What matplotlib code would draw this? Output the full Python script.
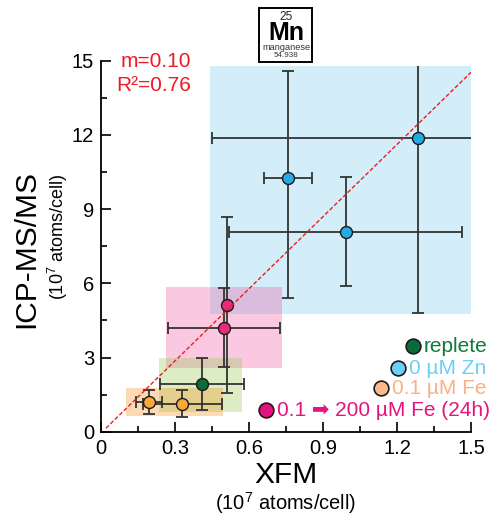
import matplotlib
matplotlib.use("Agg")
import matplotlib.pyplot as plt
from matplotlib.patches import Rectangle

plt.rcParams['font.family'] = ['Liberation Sans', 'DejaVu Sans']
plt.rcParams['mathtext.fontset'] = 'custom'
plt.rcParams['mathtext.rm'] = 'Liberation Sans'

# ---- data ----
rep_x = [0.41]; rep_y = [1.92]; rep_xerr = [0.17]; rep_yerr = [1.05]
zn_x = [0.757, 1.286, 0.992]; zn_y = [10.25, 11.89, 8.06]
zn_xerr = [0.097, 0.836, 0.473]
zn_yerr_lo = [4.83, 7.08, 2.16]; zn_yerr_hi = [4.35, 7.08, 2.24]
fe_x = [0.195, 0.33]; fe_y = [1.19, 1.13]; fe_xerr = [0.054, 0.16]; fe_yerr = [0.48, 0.55]
sh_x = [0.51, 0.499]; sh_y = [5.13, 4.21]; sh_xerr = [0.0, 0.228]; sh_yerr = [3.55, 1.58]

# ranges (x0, x1, y0, y1)
zn_box = [0.442, 1.5, 4.76, 14.79]
sh_box = [0.263, 0.732, 2.56, 5.84]
rep_box = [0.236, 0.573, 0.78, 2.97]
fe_box = [0.101, 0.495, 0.65, 1.78]

fit_x = [0.02, 1.5]; fit_y = [0.14, 14.53]

xticks = [0, 0.3, 0.6, 0.9, 1.2, 1.5]
xticklabels = ['0', '0.3', '0.6', '0.9', '1.2', '1.5']
yticks = [0, 3, 6, 9, 12, 15]

W, H = 490, 518
fig = plt.figure(figsize=(W/100, H/100), dpi=100)
ax = fig.add_axes([101/W, 1-431.7/H, 370/W, 371/H])
ax.set_xlim(0, 1.5)
ax.set_ylim(0, 15)

def box(b, color, alpha, z):
    r = Rectangle((b[0], b[2]), b[1]-b[0], b[3]-b[2], facecolor=color,
                  alpha=alpha, edgecolor='none', zorder=z)
    ax.add_patch(r)
    return r

zr = box(zn_box, '#29abe2', 0.2, 1)
box(sh_box, '#ec2a8a', 0.25, 1.1)
box(rep_box, '#8dc63f', 0.3, 1.2)
box(fe_box, '#f7941d', 0.33, 1.3)

ax.plot(fit_x, fit_y, color='#ed1c24', lw=1.0, linestyle=(0, (3, 1.5)), zorder=6)

ekw = dict(fmt='none', ecolor='#333333', elinewidth=1.3, capsize=4, capthick=1.3, zorder=3)
eb = ax.errorbar(zn_x, zn_y, xerr=zn_xerr, yerr=[zn_yerr_lo, zn_yerr_hi], **ekw)
for art in eb.get_children():
    art.set_clip_path(zr)
ax.errorbar(sh_x, sh_y, xerr=sh_xerr, yerr=sh_yerr, **ekw)
ax.errorbar(rep_x, rep_y, xerr=rep_xerr, yerr=rep_yerr, **ekw)
ax.errorbar(fe_x, fe_y, xerr=fe_xerr, yerr=fe_yerr, **ekw)

mkw = dict(linestyle='none', marker='o', markersize=8.6, markeredgecolor='#1a1a1a',
           markeredgewidth=1.0, zorder=5)
ax.plot(zn_x, zn_y, markerfacecolor='#27aae1', **mkw)
ax.plot(sh_x, sh_y, markerfacecolor='#ec2a7b', **mkw)
ax.plot(rep_x, rep_y, markerfacecolor='#0c6b3a', **mkw)
ax.plot(fe_x, fe_y, markerfacecolor='#f9a93a', **mkw)

for s in ['top', 'right']:
    ax.spines[s].set_visible(False)
for s in ['left', 'bottom']:
    ax.spines[s].set_linewidth(1.3)
ax.set_xticks(xticks)
ax.set_xticklabels(xticklabels)
ax.set_yticks(yticks)
ax.set_xticks([0.15, 0.45, 0.75, 1.05, 1.35], minor=True)
ax.set_yticks([1.5, 4.5, 7.5, 10.5, 13.5], minor=True)
ax.tick_params(which='both', direction='in', width=1.2, labelsize=14.5, pad=5)
ax.tick_params(which='major', length=7)
ax.tick_params(which='minor', length=4.5)

def fx(px): return px / W
def fy(py): return 1 - py / H

# axis titles
fig.text(fx(286), fy(475), 'XFM', fontsize=21.5, ha='center', va='center')
fig.text(fx(286), fy(503), '(10$^7$ atoms/cell)', fontsize=14.5, ha='center', va='center')
fig.text(fx(26), fy(249), 'ICP-MS/MS', fontsize=21.5, ha='center', va='center', rotation=90)
fig.text(fx(58), fy(237), '(10$^7$ atoms/cell)', fontsize=13, ha='center', va='center', rotation=90)

# fit stats
fig.text(fx(191), fy(67.3), 'm=0.10', fontsize=15, color='#ed1c24', ha='right', va='baseline')
fig.text(fx(191), fy(91), 'R\u00b2=0.76', fontsize=15, color='#ed1c24', ha='right', va='baseline')

# legend
leg_labels = ['replete', '0 \u00b5M Zn', '0.1 \u00b5M Fe', '0.1 \u27a1 200 \u00b5M Fe (24h)']
leg_text_colors = ['#0b7a3b', '#6dcff6', '#f9b184', '#e6127f']
leg_marker_colors = ['#0c6b3a', '#6dcff6', '#f9b98c', '#e6127f']
leg_px = [412.7, 398.3, 381.0, 266.3]
leg_py = [345.7, 367.7, 388.3, 410.0]
for lab, tc, mc, px, py in zip(leg_labels, leg_text_colors, leg_marker_colors, leg_px, leg_py):
    fig.lines.append(plt.Line2D([fx(px)], [fy(py)], transform=fig.transFigure,
                                marker='o', markersize=10.6, markerfacecolor=mc,
                                markeredgecolor='#1a1a1a', markeredgewidth=1.2,
                                linestyle='none'))
    fig.text(fx(px + 10.5), fy(py + 6.2), lab, fontsize=15, color=tc, ha='left', va='baseline')

# element tile
fig.patches.append(Rectangle((fx(259.3), fy(61.7)), (312.3-259.3)/W, (61.7-8.3)/H,
                             transform=fig.transFigure, facecolor='white',
                             edgecolor='black', linewidth=1.4))
fig.text(fx(286), fy(20.5), '25', fontsize=8.6, ha='center', va='baseline', color='#222222')
fig.text(fx(286), fy(40), 'Mn', fontsize=18, fontweight='bold', ha='center', va='baseline')
fig.text(fx(286), fy(49.5), 'manganese', fontsize=6.6, ha='center', va='baseline', color='#333333')
fig.text(fx(286), fy(57.3), '54.938', fontsize=5.8, ha='center', va='baseline', color='#333333')

fig.savefig('out.png', dpi=100)
